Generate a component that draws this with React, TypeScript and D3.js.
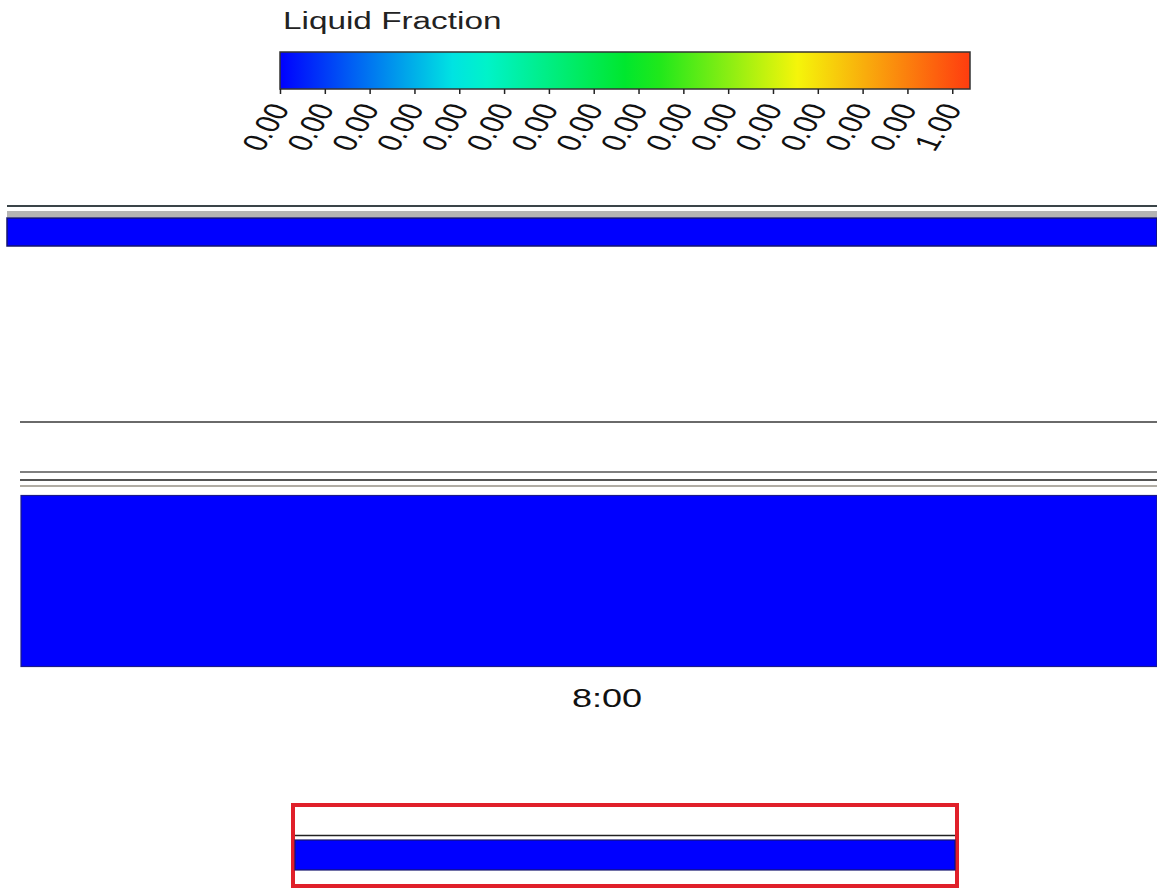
import React from "react";
import * as d3 from "d3";

// colour map of the liquid fraction contour
const colorStops = [0, 0.27, 0.52, 0.75, 1];
const colorValues = ["#0000ff", "#00f5e0", "#00e61e", "#f5f50a", "#ff3c0f"];

// colour bar ticks
const tickLabels = [
  "0.00", "0.00", "0.00", "0.00", "0.00", "0.00", "0.00", "0.00",
  "0.00", "0.00", "0.00", "0.00", "0.00", "0.00", "0.00", "1.00",
];

// liquid fraction of the fluid bands in each view
const topBandFraction = [0];
const mainBandFraction = [0];
const insetBandFraction = [0];

const timeLabel = "8:00";

const W = 1157;
const H = 890;
// the source picture is stretched sideways
const SX = 1.36;

const App = () => {
  const color = d3.scaleLinear<string>().domain(colorStops).range(colorValues);

  const barX0 = 280;
  const barX1 = 970;
  const barY0 = 52;
  const barY1 = 89;
  const tickX = d3
    .scalePoint<number>()
    .domain(d3.range(tickLabels.length))
    .range([barX0 + 0.5, barX0 + (barX1 - barX0) * 0.975]);

  const gradStops = d3.range(0, 1.0001, 0.05);

  return (
    <svg
      width={W}
      height={H}
      style={{ position: "absolute", left: 0, top: 0, background: "#fff" }}
      fontFamily="'Liberation Sans', Arial, sans-serif"
    >
      <defs>
        <linearGradient id="lf" x1="0" x2="1" y1="0" y2="0">
          {gradStops.map((t, i) => (
            <stop key={i} offset={t} stopColor={color(t)} />
          ))}
        </linearGradient>
      </defs>

      {/* legend */}
      <text transform={`translate(283,29) scale(${SX},1)`} fontSize={24.5} fill="#222">
        Liquid Fraction
      </text>
      <rect
        x={barX0}
        y={barY0}
        width={barX1 - barX0}
        height={barY1 - barY0}
        fill="url(#lf)"
        stroke="#333"
        strokeWidth={1.5}
      />
      {tickLabels.map((lab, i) => {
        const x = tickX(i) as number;
        return (
          <g key={i}>
            <line x1={x} x2={x} y1={barY1} y2={barY1 + 5} stroke="#222" strokeWidth={1.5} />
            <text
              transform={`translate(${x - 1},${barY1 + 16}) scale(${SX},1) rotate(-65)`}
              textAnchor="end"
              fontSize={25}
              dy="0.35em"
              fill="#111"
            >
              {lab}
            </text>
          </g>
        );
      })}

      {/* top view */}
      <line x1={7} x2={W} y1={206} y2={206} stroke="#3a4448" strokeWidth={1.8} />
      <rect x={7} y={211} width={W - 7} height={6} fill="#b4b4b4" />
      {topBandFraction.map((v, i) => (
        <rect key={i} x={7} y={218} width={W - 7} height={28} fill={color(v)} stroke="#14146e" strokeWidth={1.5} />
      ))}

      {/* main view */}
      <line x1={20} x2={W} y1={422} y2={422} stroke="#6a6a6a" strokeWidth={2} />
      <line x1={20} x2={W} y1={472} y2={472} stroke="#808080" strokeWidth={1.8} />
      <line x1={20} x2={W} y1={480} y2={480} stroke="#555" strokeWidth={2} />
      <line x1={20} x2={W} y1={486} y2={486} stroke="#b0aca4" strokeWidth={2} />
      {mainBandFraction.map((v, i) => (
        <rect key={i} x={21} y={495.5} width={W - 21} height={171} fill={color(v)} stroke="#1a1a8a" strokeWidth={1.2} />
      ))}

      <text
        transform={`translate(607,707) scale(${SX},1)`}
        fontSize={26.5}
        textAnchor="middle"
        fill="#111"
      >
        {timeLabel}
      </text>

      {/* inset */}
      <rect x={293} y={805} width={664} height={81} fill="#fff" stroke="#e0202a" strokeWidth={4} />
      <line x1={295} x2={955} y1={835.5} y2={835.5} stroke="#222" strokeWidth={1.5} />
      {insetBandFraction.map((v, i) => (
        <rect key={i} x={295} y={840} width={660} height={30} fill={color(v)} stroke="#14146e" strokeWidth={1.2} />
      ))}
    </svg>
  );
};

export default App;
